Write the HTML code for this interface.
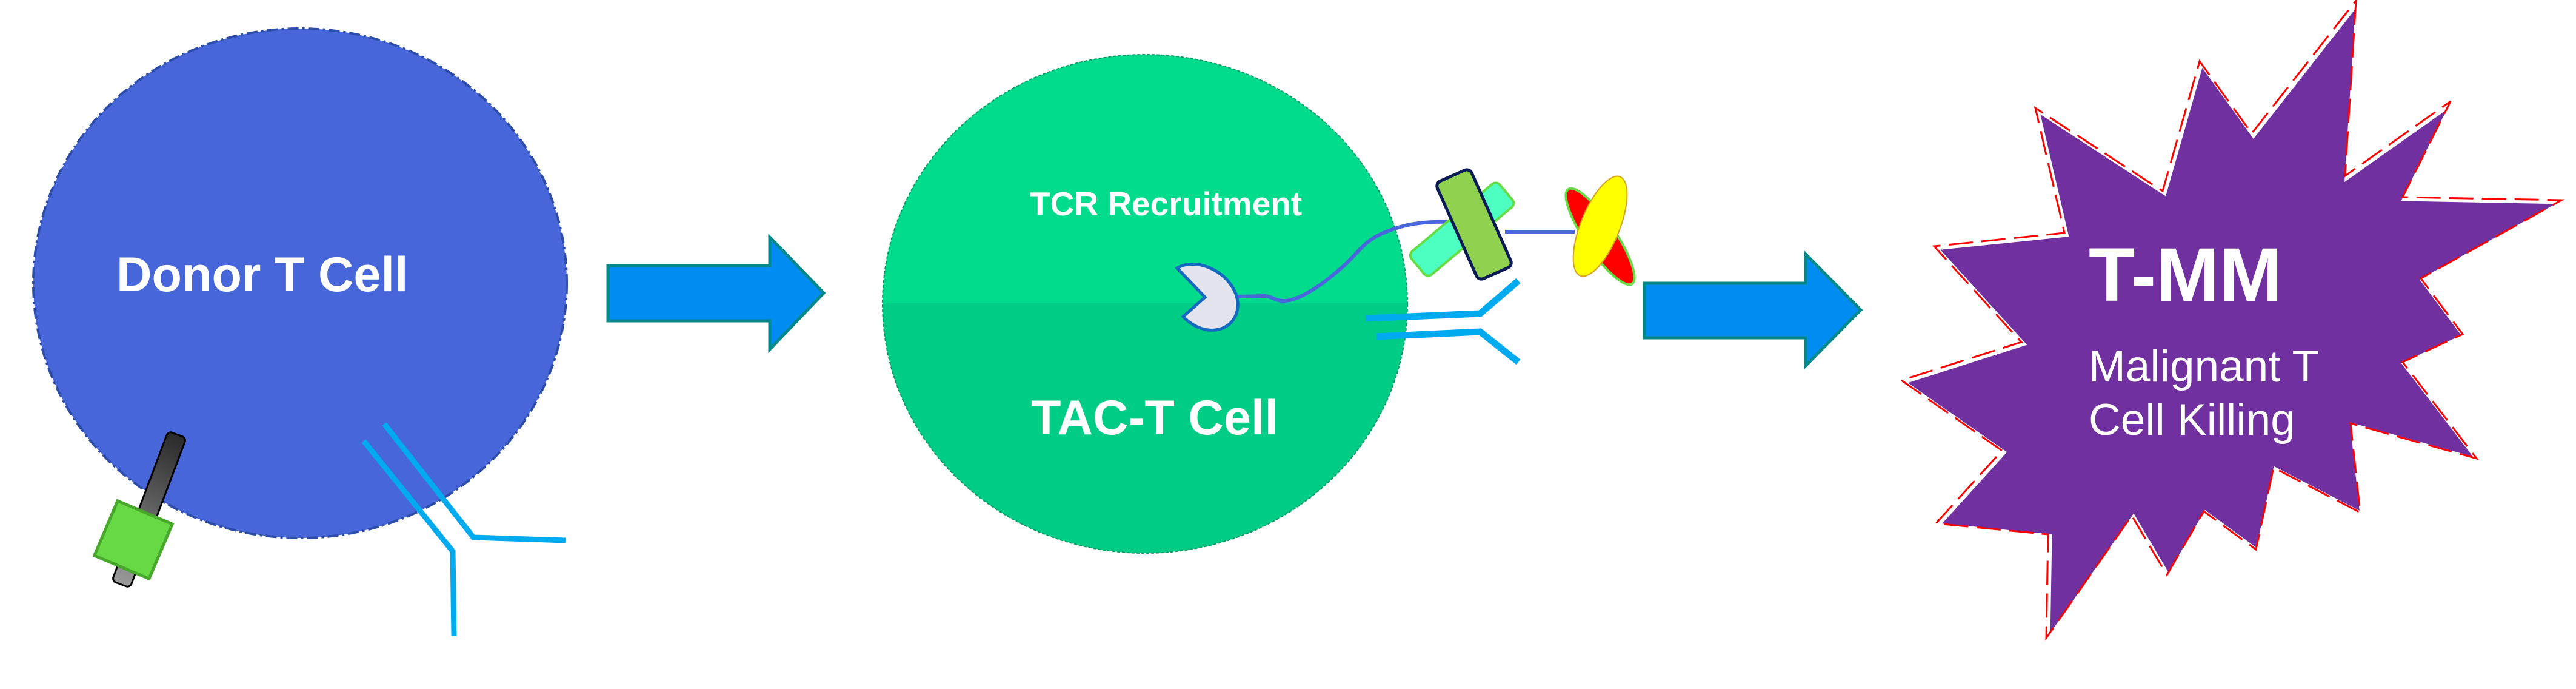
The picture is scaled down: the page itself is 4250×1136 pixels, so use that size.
<!DOCTYPE html>
<html><head><meta charset="utf-8"><style>
html,body{margin:0;padding:0;background:#fff;width:4250px;height:1136px;overflow:hidden}
svg{display:block}
text{font-family:"Liberation Sans",Arial,sans-serif;fill:#fff}
</style></head><body>
<svg width="4250" height="1136" viewBox="0 0 4250 1136" xmlns="http://www.w3.org/2000/svg">
<defs>
<linearGradient id="bar" x1="0" y1="0" x2="0" y2="1">
<stop offset="0" stop-color="#2a2a2a"/><stop offset="1" stop-color="#9a9a9a"/></linearGradient>
<clipPath id="gtop"><rect x="1400" y="0" width="1000" height="500"/></clipPath>
<clipPath id="gbot"><rect x="1400" y="500" width="1000" height="700"/></clipPath>
</defs>

<!-- Donor T cell -->
<ellipse cx="495" cy="467" rx="440" ry="420" fill="#4666d9" stroke="#2d4da8" stroke-width="4" stroke-dasharray="18 6 4 6"/>
<text x="192" y="480" font-size="81" font-weight="bold">Donor T Cell</text>
<g transform="translate(246,840) rotate(20.6)">
<rect x="-16" y="-132" width="32" height="264" rx="7" fill="url(#bar)" stroke="#000" stroke-width="3"/>
</g>
<g transform="translate(220,890) rotate(23)">
<rect x="-49" y="-49" width="98" height="98" fill="#66d944" stroke="#48a82c" stroke-width="5"/>
</g>
<polyline points="634,699 781,886 933,891" fill="none" stroke="#00aaee" stroke-width="9"/>
<polyline points="600,727 747,909 749,1049" fill="none" stroke="#00aaee" stroke-width="9"/>

<!-- Arrow 1 -->
<polygon points="1003,438 1270,438 1270,391 1359,483 1270,576 1270,529 1003,529" fill="#008cf0" stroke="#00888a" stroke-width="5"/>

<!-- TAC-T cell -->
<ellipse cx="1889" cy="501" rx="433" ry="411" fill="#00db8c" clip-path="url(#gtop)"/>
<ellipse cx="1889" cy="501" rx="433" ry="411" fill="#00cd85" clip-path="url(#gbot)"/>
<ellipse cx="1889" cy="501" rx="433" ry="411" fill="none" stroke="#0a9a66" stroke-width="2" stroke-dasharray="5 3"/>
<text x="1699" y="355" font-size="55" font-weight="bold">TCR Recruitment</text>
<text x="1701" y="716" font-size="81" font-weight="bold">TAC-T Cell</text>

<path d="M1942,442 C1975,422 2035,450 2042,497 C2046,545 1990,562 1952,522 L1988,490 Z" fill="#e4e4ef" stroke="#1468c0" stroke-width="5"/>
<path d="M2042,489 L2087,488 C2100,489 2105,497 2120,496 C2150,494 2190,462 2215,440 C2240,418 2250,398 2280,385 C2310,372 2340,364 2395,366" fill="none" stroke="#4a66dd" stroke-width="6"/>

<g transform="translate(2412,378) rotate(-40)">
<rect x="-95" y="-25" width="190" height="50" rx="9" fill="#4dffc0" stroke="#66dd44" stroke-width="4"/>
</g>
<g transform="translate(2432,370) rotate(-24)">
<rect x="-31" y="-88" width="62" height="176" rx="9" fill="#90d150" stroke="#0a1a55" stroke-width="5"/>
</g>
<line x1="2483" y1="382" x2="2598" y2="382" stroke="#4a66dd" stroke-width="6"/>
<ellipse cx="2640" cy="390" rx="25" ry="94" transform="rotate(-34 2640 390)" fill="#ff0000" stroke="#66dd44" stroke-width="4"/>
<ellipse cx="2640" cy="373" rx="32" ry="88" transform="rotate(22 2640 373)" fill="#ffff00" stroke="#d4a020" stroke-width="2"/>

<polyline points="2253,525 2442,517 2505,463" fill="none" stroke="#00aaee" stroke-width="11"/>
<polyline points="2271,555 2442,547 2505,597" fill="none" stroke="#00aaee" stroke-width="11"/>

<!-- Arrow 2 -->
<polygon points="2713,467 2979,467 2979,419 3070,511 2979,603 2979,557 2713,557" fill="#008cf0" stroke="#00888a" stroke-width="5"/>

<!-- Star -->
<polygon points="3890,4 3872,293 4046,170 3967,328 4229,333 3997,462 4066,554 3967,600 4089,759 3881,701 3897,848 3754,774 3725,909 3639,846 3578,951 3520,853 3379,1055 3382,884 3197,866 3306,746 3140,630 3338,567 3194,409 3409,387 3361,181 3571,318 3632,104 3718,223" fill="#7030a0" stroke="#fff" stroke-width="7"/>
<polygon points="3890,4 3872,293 4046,170 3967,328 4229,333 3997,462 4066,554 3967,600 4089,759 3881,701 3897,848 3754,774 3725,909 3639,846 3578,951 3520,853 3379,1055 3382,884 3197,866 3306,746 3140,630 3338,567 3194,409 3409,387 3361,181 3571,318 3632,104 3718,223" fill="none" stroke="#ff0000" stroke-width="3" stroke-dasharray="40 14" transform="translate(-3,-3)"/>
<text x="3446" y="496" font-size="125" font-weight="bold">T-MM</text>
<text x="3446" y="629" font-size="73">Malignant T</text>
<text x="3446" y="717" font-size="73">Cell Killing</text>
</svg>
</body></html>
